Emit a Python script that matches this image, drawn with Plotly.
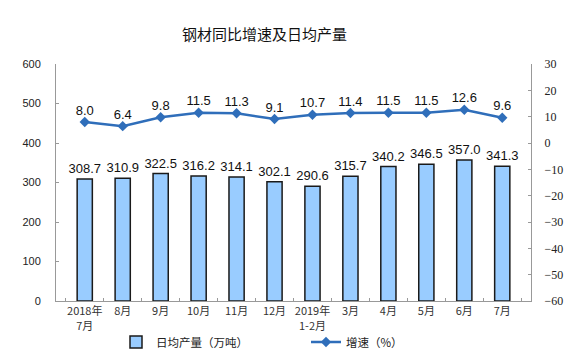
import plotly.graph_objects as go

categories = ["2018年<br>7月", "8月", "9月", "10月", "11月", "12月", "2019年<br>1-2月",
              "3月", "4月", "5月", "6月", "7月"]
output_values = [308.7, 310.9, 322.5, 316.2, 314.1, 302.1, 290.6, 315.7, 340.2, 346.5, 357.0, 341.3]
growth_values = [8.0, 6.4, 9.8, 11.5, 11.3, 9.1, 10.7, 11.4, 11.5, 11.5, 12.6, 9.6]
left_ticks = [0, 100, 200, 300, 400, 500, 600]
right_ticks = [-60, -50, -40, -30, -20, -10, 0, 10, 20, 30]

W, H = 567, 351
VOFF = 8
px0, px1 = 48, 523
py0, py1 = 64 - VOFF, 301 - VOFF
pw, ph = px1 - px0, py1 - py0

fig = go.Figure()
fig.add_trace(go.Bar(
    x=categories, y=output_values, name="日均产量（万吨）",
    marker=dict(color="#99CCFF", line=dict(color="#1a1a1a", width=1.5)),
    text=[f"{v:.1f}" for v in output_values], textposition="outside",
    constraintext="none",
    textfont=dict(family="Liberation Sans, Arial", size=13, color="#111"),
    cliponaxis=False, yaxis="y",
))
fig.add_trace(go.Scatter(
    x=categories, y=growth_values, name="增速（%）", mode="lines+markers",
    line=dict(color="#2F6EBA", width=2.5),
    marker=dict(symbol="diamond", size=8, color="#2F6EBA"),
    cliponaxis=False, yaxis="y2",
))
fig.add_trace(go.Scatter(
    x=categories, y=growth_values, mode="markers+text", showlegend=False,
    marker=dict(size=5, color="rgba(0,0,0,0)"),
    text=[f"{v:.1f}" for v in growth_values], textposition="top center",
    textfont=dict(family="Liberation Sans, Arial", size=13, color="#111"),
    cliponaxis=False, yaxis="y2", hoverinfo="skip",
))

fig.update_layout(
    width=W, height=H,
    margin=dict(l=px0, r=W - px1, t=py0, b=H - py1, autoexpand=False),
    paper_bgcolor="white", plot_bgcolor="white",
    bargap=0.6,
    showlegend=True,
    legend=dict(orientation="h", xref="container", yref="container",
                x=108 / W, y=1 - (342 - VOFF) / H, xanchor="left", yanchor="middle",
                font=dict(family="Noto Sans CJK SC", size=11.5, color="#222"),
                entrywidth=145, entrywidthmode="pixels", bgcolor="rgba(0,0,0,0)"),
    annotations=[dict(text="钢材同比增速及日均产量", x=(256 - px0) / pw, xref="paper",
                      y=1 + (py0 - (33 - VOFF)) / ph, yref="paper", xanchor="center", yanchor="middle",
                      showarrow=False, font=dict(family="Noto Sans CJK SC", size=15, color="#111"))],
    xaxis=dict(type="category", showline=True, linecolor="#999", linewidth=1,
               ticks="inside", ticklen=3, tickcolor="#999", tickson="boundaries",
               tickangle=0, automargin=False,
               tickfont=dict(family="Noto Sans CJK SC", size=11, color="#333"),
               showgrid=False),
    yaxis=dict(range=[0, 600], tickvals=left_ticks, showline=True, linecolor="#999",
               ticks="inside", ticklen=3, tickcolor="#999", showgrid=False, zeroline=False,
               automargin=False,
               tickfont=dict(family="Liberation Sans, Arial", size=11, color="#222"),
               ticklabelstandoff=12),
    yaxis2=dict(range=[-60, 30], tickvals=right_ticks, overlaying="y", side="right",
                showline=True, linecolor="#999", ticks="inside", ticklen=3, tickcolor="#999",
                showgrid=False, zeroline=False, automargin=False,
                tickfont=dict(family="Liberation Serif, Times New Roman", size=12, color="#222"),
                ticklabelstandoff=10),
)

fig.write_html("out.html")
